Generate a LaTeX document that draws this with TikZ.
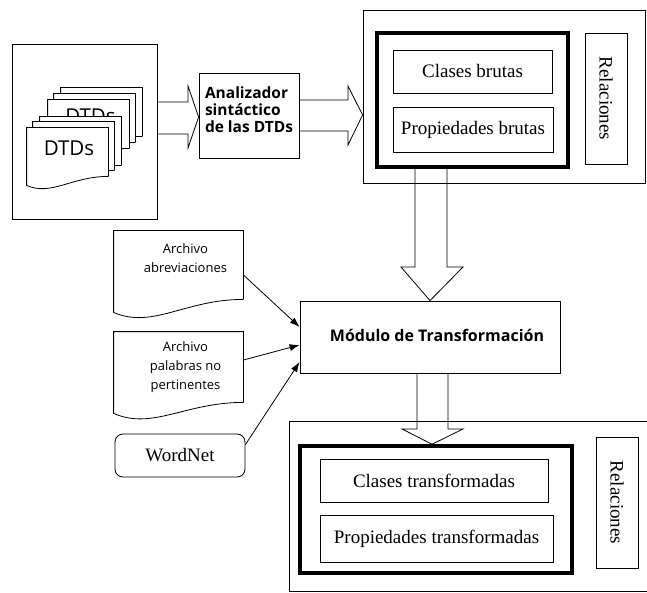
\documentclass[tikz,border=0pt]{standalone}
\usepackage{fontspec}
\setmainfont{Liberation Serif}
\setsansfont{Open Sans}
\usetikzlibrary{calc,arrows.meta}

\newcommand{\docoutline}[4][draw]{%
  \path[#1] (#2.south east) -- (#2.north east) -- (#2.north west) -- ($(#2.south west)+(0,#3)$)
    .. controls ($(#2.south west)!0.3!(#2.south east)+(0,#4)$) and ($(#2.south west)!0.55!(#2.south east)$) .. (#2.south east);}

\begin{document}
\begin{tikzpicture}[x=1pt, y=-1pt, line width=0.8pt,
                    box/.style={draw,inner sep=0pt},
                    thickbox/.style={draw,line width=3.5pt,inner sep=0pt},
                    serif/.style={font=\fontsize{19}{22}\selectfont},
                    sanslabel/.style={font=\fontsize{13}{19}\selectfont\sffamily,align=center,xshift=7pt},
                    page/.style={inner sep=0pt,minimum width=81pt,minimum height=48pt},
                    doc/.style={inner sep=0pt,minimum width=129pt},
                    hollow/.style={draw,line join=miter},
                    feed/.style={-{Latex[length=10pt,width=7pt]}}]

  \useasboundingbox (0,0) rectangle (647,593);

  \node[box,minimum width=145pt,minimum height=175pt] (dtdbox) at (84.5,131.5) {};
  \foreach \n/\x/\y in {6/101.5/112, 5/94.5/118, 4/88.5/124} {
    \node[page] (page\n) at (\x,\y) {};
    \docoutline[draw,fill=white]{page\n}{9}{20}
  }
  \node[font=\fontsize{20.5}{24}\selectfont\sffamily] (dtdback) at ($(page4)+(2,-8)$) {DTDs};
  \foreach \n/\x/\y in {3/80.5/141, 2/73.5/146, 1/67.5/152} {
    \node[page] (page\n) at (\x,\y) {};
    \docoutline[draw,fill=white]{page\n}{9}{20}
  }
  \node[font=\fontsize{20.5}{24}\selectfont\sffamily] (dtdfront) at ($(page1)+(1.5,-4)$) {DTDs};

  \node[box,minimum width=100pt,minimum height=85pt,
        label={[font=\fontsize{15.5}{17}\selectfont\sffamily\bfseries,align=left,yshift=6pt]center:Analizador\\sintáctico\\de las DTDs}] (parser) at (249,115.5) {};
  \draw[hollow] (dtdbox.east |- 0,102) -- (188,102) -- (188,86) -- (parser.west |- 0,117)
                -- (188,148) -- (188,134) -- (dtdbox.east |- 0,134);

  \node[box,minimum width=282pt,minimum height=173pt] (topbox) at (504,96.5) {};
  \node[thickbox,minimum width=191pt,minimum height=134pt] (bruto) at (472.5,100) {};
  \node[box,serif,minimum width=159pt,minimum height=43pt] (clases) at (472.5,71.5) {Clases brutas};
  \node[box,serif,minimum width=160pt,minimum height=45pt] (props) at (473,129.5) {Propiedades brutas};
  \node[box,serif,rotate=-90,minimum width=131pt,minimum height=42pt] (rel) at (606,98.5) {Relaciones};
  \draw[hollow] (parser.east |- 0,100) -- (348,100) -- (348,86) -- (topbox.west |- 0,115)
                -- (348,145) -- (348,131) -- (parser.east |- 0,131);

  \node[box,minimum width=260pt,minimum height=72pt,
        label={[font=\fontsize{16}{19}\selectfont\sffamily\bfseries,xshift=7pt,yshift=2pt]center:Módulo de Transformación}] (modulo) at (430,337) {};
  \draw[hollow] (415,0 |- bruto.south) -- (415,267) -- (401,267) -- (modulo.north)
                -- (463,267) -- (447,267) -- (447,0 |- bruto.south);

  \node[minimum width=357pt,minimum height=169pt] (lowbox) at (468.5,506.5) {};
  \draw (lowbox.north east) -- (lowbox.north west) -- (lowbox.south west) -- (lowbox.south east);
  \node[thickbox,minimum width=272pt,minimum height=127pt] (transf) at (436,509.5) {};
  \node[box,serif,minimum width=228pt,minimum height=43pt] (clasest) at (434,480.5) {Clases transformadas};
  \node[box,serif,minimum width=233pt,minimum height=47pt] (propst) at (436.5,538.5) {Propiedades transformadas};
  \node[box,serif,rotate=-90,minimum width=131pt,minimum height=42pt] (relt) at (617,502.5) {Relaciones};
  \draw[hollow] (417,0 |- modulo.south) -- (417,429) -- (402,429) -- (432,0 |- transf.north)
                -- (463,429) -- (448,429) -- (448,0 |- modulo.south);

  \node[doc,minimum height=68pt,label={[sanslabel,yshift=7pt]center:Archivo\\abreviaciones}] (abrev) at (178.5,265) {};
  \docoutline{abrev}{13}{30}
  \node[doc,minimum height=70pt,label={[sanslabel]center:Archivo\\palabras no\\pertinentes}] (palabras) at (178.5,367) {};
  \docoutline{palabras}{11}{28}
  \node[box,serif,rounded corners=8pt,minimum width=130pt,minimum height=43pt] (wordnet) at (180,455.5) {WordNet};

  \draw[feed] ($(abrev.east)+(0,10)$) -- ($(modulo.west)+(0,-10)$);
  \draw[feed] ($(palabras.east)+(0,-7)$) -- ($(modulo.west)+(0,8)$);
  \draw[feed] ($(wordnet.north east)+(0,11)$) -- ($(modulo.west)+(0,25)$);

\end{tikzpicture}
\end{document}
